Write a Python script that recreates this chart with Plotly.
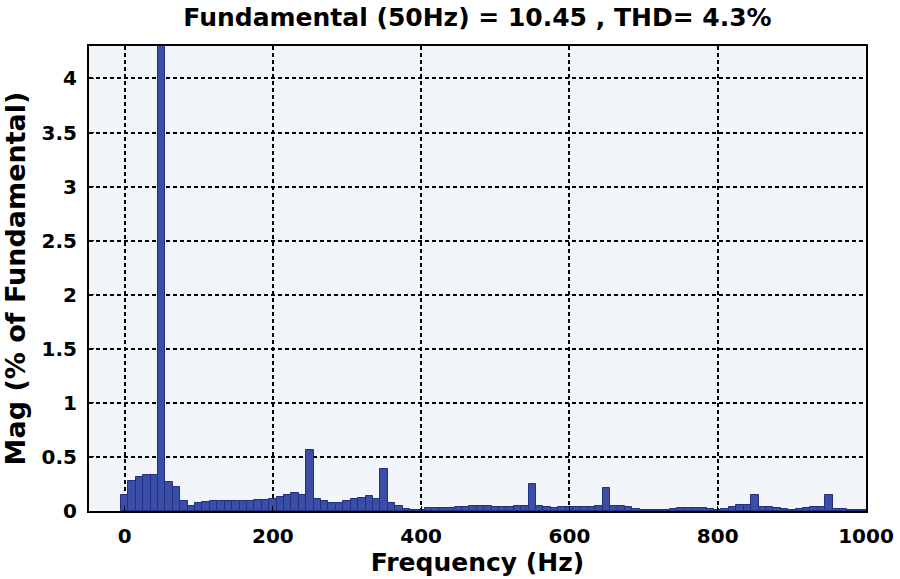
import plotly.graph_objects as go

# harmonic spectrum, 10 Hz bins from 0 to 1000 Hz
freqs = list(range(0, 1001, 10))
mags = [
    0.15, 0.28, 0.31, 0.33, 0.33, 100, 0.27, 0.22, 0.09, 0.05,   # 0-90
    0.07, 0.08, 0.09, 0.09, 0.09, 0.09, 0.09, 0.09, 0.10, 0.10,  # 100-190
    0.11, 0.13, 0.145, 0.165, 0.145, 0.56, 0.11, 0.09, 0.07, 0.07,  # 200-290
    0.09, 0.11, 0.12, 0.14, 0.11, 0.39, 0.075, 0.05, 0.02, 0.01,  # 300-390
    0.005, 0.025, 0.025, 0.025, 0.03, 0.04, 0.04, 0.05, 0.05, 0.05,  # 400-490
    0.04, 0.04, 0.04, 0.05, 0.05, 0.25, 0.05, 0.04, 0.03, 0.04,  # 500-590
    0.04, 0.04, 0.04, 0.04, 0.05, 0.21, 0.05, 0.05, 0.04, 0.02,  # 600-690
    0.01, 0.01, 0.01, 0.01, 0.02, 0.03, 0.03, 0.03, 0.03, 0.02,  # 700-790
    0.01, 0.02, 0.04, 0.06, 0.06, 0.15, 0.04, 0.04, 0.03, 0.02,  # 800-890
    0.01, 0.02, 0.03, 0.04, 0.04, 0.15, 0.02, 0.02, 0.01, 0.01,  # 900-990
    0.01,                                                        # 1000
]
x_ticks = [0, 200, 400, 600, 800, 1000]
y_ticks = [0, 0.5, 1, 1.5, 2, 2.5, 3, 3.5, 4]
y_tick_text = ["0", "0.5", "1", "1.5", "2", "2.5", "3", "3.5", "4"]

title_text = "Fundamental (50Hz) = 10.45 , THD= 4.3%"
font_family = "DejaVu Sans, Arial, sans-serif"

fig = go.Figure(go.Bar(
    x=freqs,
    y=mags,
    width=10,
    marker=dict(color="#3a4ea8", line=dict(color="#22307f", width=1)),
))

fig.update_layout(
    width=900,
    height=579,
    margin=dict(l=89, r=34, t=46, b=68),
    paper_bgcolor="white",
    plot_bgcolor="#f2f6fb",
    showlegend=False,
    bargap=0,
    title=dict(
        text="<b>" + title_text + "</b>",
        x=(89 + 866) / 2 / 900, xanchor="center",
        y=1 - 17 / 579, yanchor="middle",
        font=dict(family=font_family, size=25, color="black"),
    ),
    font=dict(family=font_family, color="black"),
)

axis_common = dict(
    automargin=False,
    showline=True, linecolor="black", linewidth=2, mirror=True,
    showgrid=True, gridcolor="black", gridwidth=1.5, griddash="4px,3px",
    zeroline=False, ticks="inside", ticklen=5, tickcolor="black",
    tickfont=dict(family=font_family, size=20, color="black", weight="bold"),
)

fig.update_xaxes(
    range=[-48, 1000],
    tickvals=x_ticks,
    ticklabelstandoff=6,
    title=dict(text="<b>Frequency (Hz)</b>", standoff=4,
               font=dict(family=font_family, size=25, color="black")),
    **axis_common,
)
fig.update_yaxes(
    range=[0, 4.3],
    tickvals=y_ticks,
    ticktext=y_tick_text,
    ticklabelstandoff=6,
    title=dict(text="<b>Mag (% of Fundamental)</b>", standoff=8,
               font=dict(family=font_family, size=27, color="black")),
    **axis_common,
)

# drop the page's default 8px body margin so the figure sits at the corner
fig.write_html("out.html", config={"displayModeBar": False},
               post_script="document.body.style.margin = '0';")
